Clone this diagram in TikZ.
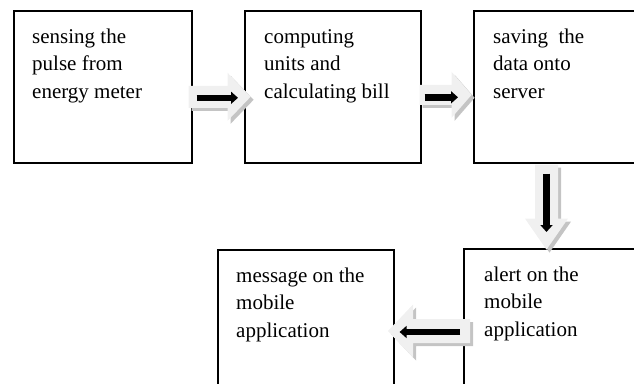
\documentclass[tikz,border=0pt]{standalone}
\usepackage{fontspec}
\setmainfont{Liberation Serif}
\usetikzlibrary{calc,arrows.meta}
\definecolor{arrowlight}{HTML}{F0F0F0}
\definecolor{arrowshadow}{HTML}{C4C4C4}
\newcommand{\blockarrow}[6]{%
  \foreach \sx/\sy/\col in {3/-3/arrowshadow,0/0/arrowlight}{%
    \fill[\col, shift={(#1)}, shift={(\sx pt,\sy pt)}, rotate=#2]
      (0,#4) -- (#3,#4) -- (#3,#5) -- ({#3+#6},0) -- (#3,-#5) -- (#3,-#4) -- (0,-#4) -- cycle;}%
}
\begin{document}
\begin{tikzpicture}[x=1pt,y=1pt,
  box/.style={draw, line width=1.6pt, rectangle, inner sep=0pt, anchor=north west},
  boxtext/.style={anchor=north west, inner sep=0pt, align=left,
    font=\fontsize{21}{27.5}\selectfont},
  bar/.style={line width=6.5pt, -{Triangle[length=7pt,width=12pt]}}]
\useasboundingbox (0,0) rectangle (634,-383);
\clip (0,0) rectangle (634,-383);
% boxes
\node[box, minimum width=178pt, minimum height=152pt] (b1) at (13,-10) {};
\node[box, minimum width=176pt, minimum height=152pt] (b2) at (244,-10) {};
\node[box, minimum width=200pt, minimum height=152pt] (b3) at (473,-10) {};
\node[box, minimum width=200pt, minimum height=170pt] (b4) at (463,-248) {};
\node[box, minimum width=176pt, minimum height=170pt] (b5) at (217,-249) {};
% texts
\node[boxtext] (t1) at ($(b1.north west)+(19,-18.5)$) {\rule{0pt}{14.5pt}sensing the\\pulse from\\energy meter};
\node[boxtext] (t2) at ($(b2.north west)+(20,-18.5)$) {\rule{0pt}{14.5pt}computing\\units and\\calculating bill};
\node[boxtext] (t3) at ($(b3.north west)+(20,-18.5)$) {\rule{0pt}{14.5pt}saving\ \ the\\data onto\\server};
\node[boxtext] (t4) at ($(b4.north west)+(21,-18.5)$) {\rule{0pt}{14.5pt}alert on the\\mobile\\application};
\node[boxtext] (t5) at ($(b5.north west)+(19,-18.5)$) {\rule{0pt}{14.5pt}message on the\\mobile\\application};
% block arrows (tails)
\coordinate (a1) at ($(b1.east)+(-4,-10)$);
\coordinate (a2) at ($(b2.east)+(-2,-8)$);
\coordinate (a3) at ($(b3.south west)+(73.5,-1)$);
\coordinate (a4) at ($(b4.north west)+(7,-83)$);
\blockarrow{a1}{0}{39}{11}{24}{23}
\blockarrow{a2}{0}{32}{10}{23}{20}
\blockarrow{a3}{-90}{54}{11.5}{21.5}{31}
\blockarrow{a4}{180}{57}{12}{26.5}{25}
% black bars
\draw[bar, shorten <=4pt, shorten >=6pt] ([yshift=-11pt]b1.east) -- ([yshift=-11pt]b2.west);
\draw[bar, shorten <=3pt, shorten >=15pt] ([yshift=-10.5pt]b2.east) -- ([yshift=-10.5pt]b3.west);
\coordinate (d1) at ($(b3.south west)+(73.5,0)$);
\coordinate (d2) at ($(b4.north west)+(83.5,0)$);
\draw[bar, shorten <=10pt, shorten >=16pt] (d1) -- (d2);
\coordinate (l1) at ($(b4.north west)+(0,-84)$);
\coordinate (l2) at ($(b5.north east)+(0,-83)$);
\draw[bar, shorten <=3pt, shorten >=5pt] (l1) -- (l2);
\end{tikzpicture}
\end{document}
